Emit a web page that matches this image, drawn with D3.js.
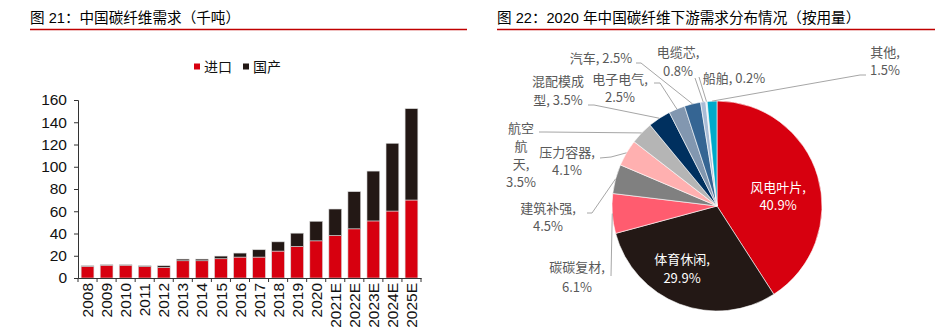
<!DOCTYPE html>
<html>
<head>
<meta charset="utf-8">
<script src="https://cdn.jsdelivr.net/npm/d3@7"></script>
<style>
  body { margin: 0; background: #fff; }
  text { font-family: "Liberation Sans", "Noto Sans CJK SC", sans-serif; }
</style>
</head>
<body>
<script>
// ---- data: left chart (thousand tonnes) ----
const years = ["2008","2009","2010","2011","2012","2013","2014","2015","2016","2017",
               "2018","2019","2020","2021E","2022E","2023E","2024E","2025E"];
const importVals   = [10.5, 11.5, 11.5, 10.3, 9.5, 15.5, 15.5, 17.3, 18.8, 18.8,
                      24.2, 28.4, 33.4, 38.2, 44.2, 51.3, 60.2, 70.1];
const domesticVals = [0.5, 0.4, 0.4, 0.7, 1.5, 1.5, 1.5, 2.4, 3.6, 6.6,
                      8.3, 11.9, 17.6, 23.8, 33.4, 44.8, 60.9, 82.1];
const seriesNames = ["进口", "国产"];
const yTicks = [0, 20, 40, 60, 80, 100, 120, 140, 160];

// ---- data: right chart (share %) ----
const pieNames  = ["风电叶片","体育休闲","碳碳复材","建筑补强","压力容器","航空航天",
                   "混配模成型","电子电气","汽车","电缆芯","船舶","其他"];
const pieValues = [40.9, 29.9, 6.1, 4.5, 4.1, 3.5, 3.5, 2.5, 2.5, 0.8, 0.2, 1.5];

// styles
const barColors = ["#d7000f", "#231815"];
const pieColors = ["#d7000f","#231815","#ff5c6f","#808080","#ffb0b0","#b5b5b5",
                   "#00305f","#8297b0","#356593","#a9bcd6","#dfe6ef","#00a9c9"];

const width = 940, height = 336;

let svg = d3.select("body")
            .append("svg")
            .attr("width", width)
            .attr("height", height)
            .style("background", "#fff");

// titles + red rules
const titles = [
  {text: "图 21：中国碳纤维需求（千吨）", x: 30, x2: 467},
  {text: "图 22：2020 年中国碳纤维下游需求分布情况（按用量）", x: 497, x2: 935}
];
titles.forEach(t => {
  svg.append("text")
     .attr("x", t.x).attr("y", 23)
     .style("font-size", "14.6px")
     .style("fill", "#000")
     .text(t.text);
  svg.append("line")
     .attr("x1", t.x).attr("x2", t.x2)
     .attr("y1", 29.5).attr("y2", 29.5)
     .attr("stroke", "#c00000")
     .attr("stroke-width", 1.5);
});

// ================= bar chart =================
let margin = {left: 78, right: 421, top: 100, bottom: 278};

let xScale = d3.scaleBand()
               .domain(years)
               .range([margin.left, margin.right])
               .paddingInner(0.33)
               .paddingOuter(0.165);

let yScale = d3.scaleLinear()
               .domain([0, 160])
               .range([margin.bottom, margin.top]);

const table = years.map((y, i) => ({year: y, imp: importVals[i], dom: domesticVals[i]}));
const stacked = d3.stack().keys(["imp", "dom"])(table);

svg.append("g")
   .selectAll("g")
   .data(stacked)
   .enter().append("g")
   .attr("fill", (d, i) => barColors[i])
   .selectAll("rect")
   .data(d => d)
   .enter().append("rect")
   .attr("x", d => xScale(d.data.year))
   .attr("width", xScale.bandwidth())
   .attr("y", d => yScale(d[1]))
   .attr("height", d => yScale(d[0]) - yScale(d[1]))
   .attr("stroke", "#d8d8d8")
   .attr("stroke-width", 0.6);

// y axis
let yAxis = svg.append("g")
   .attr("transform", `translate(${margin.left},0)`)
   .call(d3.axisLeft(yScale).tickValues(yTicks).tickSize(4).tickPadding(7));
yAxis.select(".domain").attr("stroke", "#333");
yAxis.selectAll(".tick line").attr("stroke", "#333");
yAxis.selectAll(".tick text")
     .style("font-size", "15.5px")
     .style("font-family", "Liberation Sans, Arial, sans-serif")
     .attr("fill", "#111");

// x axis: ticks at band boundaries, labels rotated
let xAxis = svg.append("g")
   .attr("transform", `translate(0,${margin.bottom})`)
   .call(d3.axisBottom(xScale).tickSize(0).tickPadding(0));
xAxis.select(".domain").attr("stroke", "#333");
xAxis.selectAll(".tick text")
     .attr("transform", "rotate(-90)")
     .attr("x", -5)
     .attr("y", 0)
     .attr("dy", "0.36em")
     .style("text-anchor", "end")
     .style("font-size", "15.5px")
     .style("font-family", "Liberation Sans, Arial, sans-serif")
     .attr("fill", "#111");
xAxis.selectAll(".bound")
     .data(d3.range(years.length + 1))
     .enter().append("line")
     .attr("x1", i => margin.left + i * xScale.step())
     .attr("x2", i => margin.left + i * xScale.step())
     .attr("y1", 0).attr("y2", 4)
     .attr("stroke", "#333");

// legend
const legend = svg.selectAll(".legend")
   .data(seriesNames)
   .enter().append("g")
   .attr("class", "legend")
   .attr("transform", (d, i) => `translate(${194 + i * 49},0)`);
legend.append("rect")
   .attr("x", 0).attr("y", 63.5)
   .attr("width", 6).attr("height", 6)
   .attr("fill", (d, i) => barColors[i]);
legend.append("text")
   .attr("x", 10).attr("y", 72)
   .style("font-size", "14px")
   .style("fill", "#111")
   .text(d => d);

// ================= pie chart =================
const cx = 717, cy = 206, r = 105;
const pie = d3.pie().sort(null).value(d => d);
const arcs = pie(pieValues);
const arc = d3.arc().innerRadius(0).outerRadius(r);
const edge = d3.arc().innerRadius(r).outerRadius(r);

const pg = svg.append("g").attr("transform", `translate(${cx},${cy})`);
pg.selectAll("path")
  .data(arcs)
  .enter().append("path")
  .attr("d", arc)
  .attr("fill", (d, i) => pieColors[i])
  .attr("stroke", "#fff")
  .attr("stroke-width", 0.6);

// label layout: text anchor, baselines, leader start/elbow
const labelLayout = [
  {lines: ["风电叶片,", "40.9%"], x: 778, y: 192, lh: 18, fill: "#fff"},
  {lines: ["体育休闲,", "29.9%"], x: 682, y: 264, lh: 19, fill: "#fff"},
  {lines: ["碳碳复材,", "6.1%"], x: 577, y: 272, lh: 20, lead: [[611, 276]]},
  {lines: ["建筑补强,", "4.5%"], x: 548, y: 213, lh: 18, lead: [[587, 213], [592, 213]]},
  {lines: ["压力容器,", "4.1%"], x: 567, y: 157, lh: 18, lead: [[600, 158], [611, 157]]},
  {lines: ["航空", "航", "天,", "3.5%"], x: 521, y: 133, lh: 18, lead: [[539, 132], [545, 132]]},
  {lines: ["混配模成", "型, 3.5%"], x: 558, y: 86, lh: 19, lead: [[588, 105], [594, 105]]},
  {lines: ["电子电气,", "2.5%"], x: 620, y: 84, lh: 18, lead: [[654, 83], [660, 83]]},
  {lines: ["汽车, 2.5%"], x: 601, y: 63, lh: 18, lead: [[636, 63], [641, 63]]},
  {lines: ["电缆芯,", "0.8%"], x: 678, y: 57, lh: 19, lead: [[695, 78]]},
  {lines: ["船舶, 0.2%"], x: 734, y: 83, lh: 18, lead: [[699, 77]]},
  {lines: ["其他,", "1.5%"], x: 885, y: 57, lh: 18, lead: [[866, 75], [860, 75]]}
];

labelLayout.forEach((L, i) => {
  if (L.lead) {
    const p = edge.centroid(arcs[i]);
    const pts = L.lead.concat([[cx + p[0], cy + p[1]]]);
    svg.append("path")
       .attr("d", d3.line()(pts))
       .attr("fill", "none")
       .attr("stroke", "#a6a6a6")
       .attr("stroke-width", 1);
  }
  const t = svg.append("text")
     .attr("text-anchor", "middle")
     .style("font-family", "Noto Sans CJK SC, sans-serif")
     .style("font-size", "13px")
     .style("fill", L.fill || "#595959");
  L.lines.forEach((s, j) => {
    t.append("tspan").attr("x", L.x).attr("y", L.y + j * L.lh).text(s);
  });
});
</script>
</body>
</html>
